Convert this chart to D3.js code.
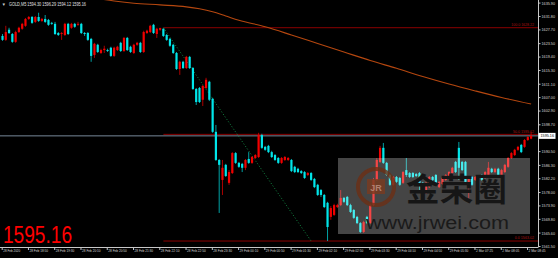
<!DOCTYPE html>
<html>
<head>
<meta charset="utf-8">
<script src="https://cdnjs.cloudflare.com/ajax/libs/d3/7.8.5/d3.min.js"></script>
<style>
html, body { margin: 0; padding: 0; background: #000; }
#chart_gold { width: 558px; height: 258px; }
</style>
</head>
<body>
<div id="chart_gold"></div>
<script>
//////// DATA (GOLD, M5) ////////
var opens = [
1625.7,1624.5,1627.6,1626.3,1623.9,1626.9,1627.9,1628.8,1630.9,1631.5,
1630.0,1631.5,1630.3,1630.9,1630.6,1629.7,1629.4,1626.6,1626.3,1626.0,
1629.4,1628.2,1629.4,1629.1,1629.4,1626.6,1626.6,1624.8,1619.9,1623.0,
1620.5,1621.4,1621.4,1622.1,1619.6,1621.4,1623.6,1621.1,1625.1,1622.4,
1620.5,1623.0,1623.6,1620.8,1626.6,1626.9,1629.1,1626.3,1627.6,1627.9,
1626.0,1624.8,1623.0,1620.5,1615.6,1617.8,1615.9,1619.3,1615.9,1609.5,
1609.8,1606.2,1609.8,1611.7,1606.5,1596.4,1587.8,1581.7,1586.3,1580.8,
1583.8,1589.9,1586.9,1586.6,1585.4,1588.1,1586.9,1588.4,1588.7,1595.4,
1591.8,1592.1,1590.2,1589.3,1588.4,1586.9,1587.8,1587.8,1587.8,1585.7,
1585.1,1584.4,1584.1,1583.2,1583.8,1582.0,1580.2,1578.6,1577.1,1574.7,
1570.4,1571.0,1573.4,1574.0,1576.2,1576.5,1574.0,1572.5,1570.4,1568.5,
1565.8,1570.4,1568.5,1574.0,1581.7,1587.2,1591.5,1586.9,1583.2,1580.2,
1582.6,1582.3,1580.8,1584.7,1583.8,1583.8,1583.5,1583.8,1580.8,1577.7,
1579.5,1582.6,1583.2,1579.5,1580.5,1581.7,1582.6,1583.8,1587.2,1591.5,
1587.2,1587.2,1580.2,1582.6,1581.7,1582.3,1583.2,1582.3,1583.2,1585.1,
1584.1,1585.1,1583.2,1584.1,1585.7,1588.4,1589.3,1590.9,1592.4,1591.8,
1593.9,1594.30];

var highs = [
1626.3,1628.8,1628.2,1626.6,1627.3,1628.5,1629.7,1631.2,1631.8,1631.8,
1631.8,1632.8,1631.2,1632.1,1630.9,1630.0,1630.0,1626.9,1626.9,1629.7,
1629.7,1629.7,1629.7,1630.0,1629.7,1626.9,1626.9,1625.1,1623.6,1623.3,
1621.8,1622.7,1621.8,1622.4,1622.4,1622.7,1623.9,1625.4,1625.4,1622.7,
1623.3,1623.9,1623.9,1627.3,1627.6,1629.1,1629.4,1628.2,1628.22,1628.0,
1626.3,1625.1,1623.3,1620.8,1618.1,1618.1,1619.6,1619.6,1616.2,1609.8,
1610.1,1610.7,1612.9,1612.0,1606.8,1598.5,1588.1,1587.8,1586.6,1584.7,
1590.2,1590.2,1587.2,1586.9,1588.1,1590.2,1589.0,1589.6,1596.1,1595.8,
1592.1,1592.4,1590.6,1589.6,1588.7,1588.7,1589.0,1588.7,1588.1,1586.0,
1585.4,1584.7,1584.4,1584.1,1584.1,1582.3,1580.5,1578.9,1577.4,1575.0,
1573.7,1574.4,1574.4,1578.6,1576.5,1576.8,1574.4,1572.8,1570.7,1568.8,
1569.2,1570.7,1574.4,1582.3,1588.4,1592.1,1593.0,1587.2,1583.5,1582.9,
1582.9,1582.6,1584.4,1588.4,1584.1,1584.1,1583.8,1584.1,1581.1,1581.1,
1582.9,1582.9,1583.5,1581.4,1582.6,1583.5,1584.4,1585.7,1587.5,1593.3,
1587.5,1587.5,1582.9,1582.9,1582.9,1583.2,1583.5,1584.4,1587.2,1585.4,
1585.4,1585.4,1585.1,1586.6,1588.7,1590.2,1591.2,1592.1,1592.7,1594.2,
1595.1,1596.29];

var lows = [
1624.2,1624.2,1626.3,1623.6,1623.6,1626.6,1627.6,1628.5,1630.6,1629.4,
1629.7,1630.0,1630.0,1629.7,1628.8,1629.1,1626.0,1625.7,1624.5,1625.7,
1626.0,1627.9,1628.2,1628.8,1626.3,1625.7,1624.2,1617.8,1619.0,1620.5,
1620.2,1620.5,1620.8,1619.3,1619.3,1621.1,1620.8,1620.8,1621.1,1620.5,
1620.2,1622.7,1620.5,1620.5,1626.3,1626.6,1626.3,1625.1,1627.3,1625.4,
1624.2,1622.4,1620.2,1615.3,1613.8,1615.6,1615.6,1615.6,1609.2,1604.6,
1605.2,1604.3,1609.5,1605.8,1596.1,1587.5,1571.6,1577.1,1582.6,1580.2,
1583.5,1586.6,1585.4,1584.1,1584.7,1586.6,1586.6,1588.1,1588.4,1591.2,
1590.6,1589.9,1588.4,1587.5,1586.6,1586.6,1587.5,1587.5,1584.1,1583.8,
1583.8,1583.5,1582.0,1582.9,1581.4,1579.2,1576.8,1576.5,1573.1,1563.02,
1569.5,1570.7,1573.1,1573.7,1574.7,1573.7,1571.6,1569.8,1568.2,1565.5,
1565.5,1568.2,1568.2,1573.7,1581.4,1586.9,1586.6,1582.9,1579.9,1579.9,
1580.8,1579.9,1580.5,1582.6,1582.3,1582.3,1582.6,1578.6,1577.4,1577.4,
1579.2,1581.4,1580.5,1579.2,1580.2,1581.4,1582.3,1583.5,1583.8,1581.7,
1584.4,1580.8,1575.6,1579.9,1581.4,1581.7,1581.4,1582.0,1582.9,1583.8,
1583.8,1582.9,1582.9,1583.8,1585.4,1588.1,1589.0,1590.6,1589.9,1591.5,
1593.6,1594.12];

var closes = [
1624.5,1626.9,1626.6,1623.9,1626.9,1628.2,1629.4,1630.9,1631.5,1629.7,
1631.5,1630.3,1630.9,1630.0,1629.1,1629.4,1626.3,1626.0,1626.6,1629.4,
1626.3,1629.4,1628.5,1629.4,1626.6,1626.3,1624.5,1619.6,1623.3,1620.8,
1621.4,1621.8,1621.1,1619.6,1622.1,1622.4,1621.1,1625.1,1621.4,1620.8,
1623.0,1623.6,1620.8,1626.9,1627.3,1628.8,1626.6,1627.9,1628.1,1625.7,
1624.5,1622.7,1620.5,1615.6,1617.8,1615.9,1619.3,1615.9,1609.5,1605.5,
1605.5,1610.4,1612.3,1606.2,1596.4,1587.8,1586.3,1585.4,1582.9,1584.1,
1589.9,1586.9,1585.7,1585.4,1587.8,1586.9,1588.7,1589.3,1595.4,1591.5,
1590.9,1590.2,1588.7,1587.8,1586.9,1588.4,1588.7,1588.4,1584.4,1584.1,
1584.1,1583.8,1582.3,1583.8,1581.7,1579.5,1577.1,1577.1,1573.4,1567.3,
1573.1,1574.0,1574.0,1576.2,1575.0,1574.0,1571.9,1570.1,1568.5,1565.8,
1568.8,1568.5,1574.0,1581.7,1587.8,1591.5,1586.9,1583.2,1580.2,1582.6,
1581.1,1580.2,1584.1,1583.2,1582.6,1582.6,1582.9,1580.8,1577.7,1580.8,
1582.6,1581.7,1580.8,1581.1,1582.3,1583.2,1584.1,1585.4,1584.1,1585.4,
1584.7,1581.1,1582.6,1580.2,1582.6,1582.9,1581.7,1584.1,1585.4,1584.1,
1585.1,1583.2,1584.7,1586.3,1588.4,1589.9,1590.9,1591.8,1590.2,1593.9,
1594.8,1595.16];

// moving average, read at a few bars
var maBars   = [28, 34, 40, 48, 56, 60, 64, 68, 72, 80, 88, 96, 104, 112, 120, 128, 136, 144, 152, 161];
var maValues = [1637.3, 1636.4, 1635.7, 1635.2, 1634.6, 1634.0, 1633.1, 1631.8, 1630.5, 1628.5,
                1626.0, 1623.4, 1620.8, 1618.2, 1615.8, 1613.3, 1611.0, 1608.9, 1606.9, 1604.9];

// fibonacci retracement
var fibLevels = ["0.0", "50.0", "100.0"];
var fibPrices = [1563.02, 1595.62, 1628.22];
var fibBars = [49, 94];   // anchor bars: high, low

// axes
var timeTicks = [0, 8, 16, 24, 32, 40, 48, 56, 64, 72, 80, 88, 96, 104, 112, 120, 128, 136, 144, 152, 160];
var timeLabels = ["28 Feb 2020", "28 Feb 18:50", "28 Feb 19:30", "28 Feb 20:10", "28 Feb 20:50",
                  "28 Feb 21:30", "28 Feb 22:10", "28 Feb 22:50", "28 Feb 23:30", "29 Feb 00:10",
                  "29 Feb 00:50", "29 Feb 01:30", "29 Feb 02:10", "29 Feb 02:50", "29 Feb 03:30",
                  "29 Feb 04:10", "29 Feb 04:50", "29 Feb 05:30", "2 Mar 07:25", "2 Mar 08:05", "2 Mar 08:45"];
var priceTicks = [1561.50, 1565.60, 1569.80, 1573.90, 1578.00, 1582.20, 1586.30, 1590.50,
                  1598.70, 1602.90, 1607.00, 1611.10, 1615.30, 1619.40, 1623.50, 1627.70, 1631.80, 1635.90];

var symbolName = "GOLD,M5";
var lastPrice = 1595.16;

function plotGold() {

	var width = 558, height = 258,
		plotRight = 538.5, plotBottom = 247;

	var upColor = "#f20000", downColor = "#00e6ea";

	//////// SCALES ////////
	var x = d3.scaleLinear().domain([0, 161]).range([2.5, 531.1]);
	var y = d3.scaleLinear().domain([1561.5, 1631.8]).range([246, 16]);

	//////// CANVAS ////////
	var svg = d3.select("#chart_gold").append("svg")
		.attr("width", width)
		.attr("height", height)
		.style("background", "#000")
		.style("display", "block");

	svg.append("defs").append("clipPath").attr("id", "plotClip")
		.append("rect").attr("width", plotRight).attr("height", plotBottom);

	var plot = svg.append("g").attr("clip-path", "url(#plotClip)");

	// Bid line
	plot.append("line")
		.attr("x1", 0).attr("x2", plotRight)
		.attr("y1", y(lastPrice)).attr("y2", y(lastPrice))
		.attr("stroke", "#778899").attr("stroke-width", 1);

	// Fibo levels
	plot.selectAll(".fib").data(fibPrices).enter().append("line")
		.attr("class", "fib")
		.attr("x1", x(fibBars[0])).attr("x2", plotRight)
		.attr("y1", function(d) { return y(d); })
		.attr("y2", function(d) { return y(d); })
		.attr("stroke", "#8b0000").attr("stroke-width", 1);

	// Fibo trend line
	plot.append("line")
		.attr("x1", x(fibBars[0])).attr("y1", y(fibPrices[2]))
		.attr("x2", x(fibBars[1])).attr("y2", y(fibPrices[0]))
		.attr("stroke", "#138a45").attr("stroke-width", 1)
		.attr("stroke-dasharray", "1,2");

	// Moving average
	var maLine = d3.line()
		.x(function(d, i) { return x(maBars[i]); })
		.y(function(d) { return y(d); })
		.curve(d3.curveMonotoneX);

	plot.append("path")
		.attr("d", maLine(maValues))
		.attr("fill", "none")
		.attr("stroke", "#b5470f").attr("stroke-width", 1.1);

	// Candles
	var bars = plot.selectAll(".bar").data(opens).enter().append("g").attr("class", "bar");

	bars.append("line")
		.attr("x1", function(d, i) { return x(i); })
		.attr("x2", function(d, i) { return x(i); })
		.attr("y1", function(d, i) { return y(highs[i]); })
		.attr("y2", function(d, i) { return y(lows[i]); })
		.attr("stroke", function(d, i) { return closes[i] >= d ? upColor : downColor; })
		.attr("stroke-opacity", 0.7)
		.attr("stroke-width", 1);

	bars.append("rect")
		.attr("x", function(d, i) { return x(i) - 1.1; })
		.attr("width", 2.2)
		.attr("y", function(d, i) { return y(Math.max(d, closes[i])); })
		.attr("height", function(d, i) { return Math.max(0.7, Math.abs(y(d) - y(closes[i]))); })
		.attr("fill", function(d, i) { return closes[i] >= d ? upColor : downColor; });

	// Watermark
	var wm = svg.append("g");
	wm.append("rect")
		.attr("x", 338).attr("y", 158).attr("width", 192).attr("height", 76)
		.attr("fill", "#fff").attr("fill-opacity", 0.27);
	wm.append("circle")
		.attr("cx", 376).attr("cy", 187).attr("r", 18)
		.attr("fill", "none").attr("stroke", "#6b2e14").attr("stroke-width", 4).attr("stroke-opacity", 0.8);
	wm.append("rect")
		.attr("x", 367).attr("y", 179).attr("width", 18).attr("height", 15)
		.attr("fill", "#7a3a1e").attr("fill-opacity", 0.8);
	wm.append("text")
		.attr("x", 376).attr("y", 190.5)
		.attr("text-anchor", "middle")
		.style("font", "bold 9px 'Liberation Sans', sans-serif")
		.attr("fill", "#b08070")
		.text("JR");
	wm.append("text")
		.attr("x", 406).attr("y", 201)
		.attr("textLength", 101).attr("lengthAdjust", "spacingAndGlyphs")
		.style("font", "bold 32px 'Noto Sans CJK SC', sans-serif")
		.attr("fill", "#161616")
		.text("金荣圈");
	wm.append("text")
		.attr("x", 366).attr("y", 228.5)
		.attr("textLength", 143).attr("lengthAdjust", "spacingAndGlyphs")
		.style("font", "18px 'Liberation Sans', sans-serif")
		.attr("fill", "#1a1a1a")
		.text("www.jrwei.com");

	// Fibo labels
	svg.selectAll(".fibLabel").data(fibPrices).enter().append("text")
		.attr("class", "fibLabel")
		.attr("x", 534).attr("y", function(d) { return y(d) - 1.6; })
		.attr("text-anchor", "end")
		.attr("textLength", function(d, i) { return (fibLevels[i].length + 8) * 1.75; })
		.attr("lengthAdjust", "spacingAndGlyphs")
		.style("font", "4.4px 'Liberation Sans', sans-serif")
		.attr("fill", "#b01010")
		.text(function(d, i) { return fibLevels[i] + "  " + d.toFixed(2); });

	//////// AXES ////////
	var yAxis = d3.axisRight(y).tickValues(priceTicks).tickSize(2)
		.tickFormat(d3.format(".2f"));

	var gy = svg.append("g").attr("transform", "translate(" + plotRight + ",0)").call(yAxis);
	gy.select(".domain").remove();
	gy.selectAll(".tick line").attr("stroke", "#c8c8c8");
	gy.selectAll(".tick text")
		.attr("x", 3)
		.attr("fill", "#d8d8d8")
		.attr("textLength", 13.5).attr("lengthAdjust", "spacingAndGlyphs")
		.style("font", "4.4px 'Liberation Sans', sans-serif");

	svg.append("line")
		.attr("x1", plotRight).attr("x2", plotRight)
		.attr("y1", 0).attr("y2", plotBottom)
		.attr("stroke", "#c8c8c8").attr("stroke-width", 1);

	var xAxis = d3.axisBottom(x).tickValues(timeTicks).tickSize(3)
		.tickFormat(function(d, i) { return timeLabels[i]; });

	var gx = svg.append("g").attr("transform", "translate(-0.8," + plotBottom + ")").call(xAxis);
	gx.select(".domain").remove();
	gx.selectAll(".tick line").attr("stroke", "#c8c8c8");
	gx.selectAll(".tick text")
		.attr("x", 1).attr("y", 2).attr("dy", "0.71em")
		.attr("text-anchor", "start")
		.attr("fill", "#d8d8d8")
		.attr("textLength", function(d, i) { return timeLabels[i].length * 1.55; })
		.attr("lengthAdjust", "spacingAndGlyphs")
		.style("font", "3.6px 'Liberation Sans', sans-serif");

	svg.append("line")
		.attr("x1", 0).attr("x2", plotRight)
		.attr("y1", plotBottom + 0.5).attr("y2", plotBottom + 0.5)
		.attr("stroke", "#c8c8c8").attr("stroke-width", 1);

	// Current price box
	svg.append("rect")
		.attr("x", plotRight).attr("y", y(lastPrice) - 3)
		.attr("width", 17).attr("height", 6)
		.attr("fill", "#fff");
	svg.append("text")
		.attr("x", plotRight + 2).attr("y", y(lastPrice) + 1.6)
		.attr("textLength", 13.5).attr("lengthAdjust", "spacingAndGlyphs")
		.style("font", "4.4px 'Liberation Sans', sans-serif")
		.attr("fill", "#000")
		.text(lastPrice.toFixed(2));

	//////// TEXTS ////////
	svg.append("text")
		.attr("x", 2.5).attr("y", 6)
		.style("font", "5px 'DejaVu Sans', sans-serif")
		.attr("fill", "#cfcfcf")
		.text("▾");
	svg.append("text")
		.attr("x", 9).attr("y", 6)
		.attr("textLength", 77).attr("lengthAdjust", "spacingAndGlyphs")
		.style("font", "4.6px 'Liberation Sans', sans-serif")
		.attr("fill", "#e0e0e0")
		.text(symbolName + " " + [opens[161], highs[161], lows[161], closes[161]].map(function(v) { return v.toFixed(2); }).join(" "));

	svg.append("text")
		.attr("x", 3).attr("y", 242.5)
		.attr("textLength", 69).attr("lengthAdjust", "spacingAndGlyphs")
		.style("font", "23px 'Liberation Sans', sans-serif")
		.attr("fill", "#ff0000")
		.text(lastPrice.toFixed(2));
}
plotGold();
</script>
</body>
</html>
